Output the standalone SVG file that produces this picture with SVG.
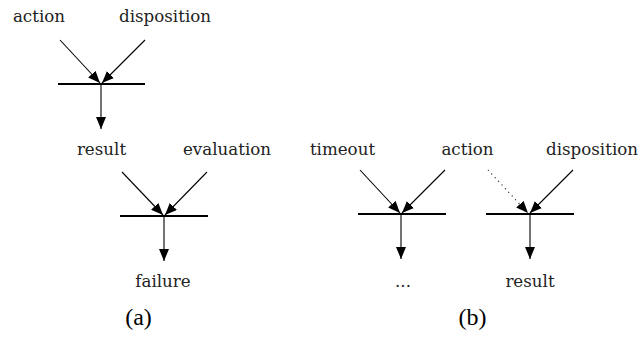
<svg xmlns="http://www.w3.org/2000/svg" width="641" height="337" viewBox="0 0 641 337">
<style>
.lbl{font-family:"DejaVu Serif",serif;font-size:16.7px;fill:#222;text-anchor:middle}
.cap{font-family:"Liberation Serif",serif;font-size:24px;fill:#000;text-anchor:middle}
.bar{stroke:#000;stroke-width:2.2;fill:none}
.arr{stroke:#000;stroke-width:1.1;fill:none;marker-end:url(#ah)}
.dot{stroke:#000;stroke-width:1.1;fill:none;stroke-dasharray:1 4;marker-end:url(#ah)}
</style>
<defs>
<marker id="ah" viewBox="0 0 12 10" refX="12" refY="5" markerWidth="12" markerHeight="10" markerUnits="userSpaceOnUse" orient="auto">
<path d="M0,0 L12,5 L0,10 Z" fill="#000"/>
</marker>
</defs>
<g id="labels-a">
<g id="n-action-a"><text class="lbl" x="39" y="22">action</text></g>
<g id="n-disposition-a"><text class="lbl" x="165" y="22">disposition</text></g>
<g id="n-result-a"><text class="lbl" x="101.5" y="155">result</text></g>
<g id="n-evaluation"><text class="lbl" x="227" y="155">evaluation</text></g>
<g id="n-failure"><text class="lbl" x="163" y="287">failure</text></g>
</g>
<g id="labels-b">
<g id="n-timeout"><text class="lbl" x="342.5" y="155">timeout</text></g>
<g id="n-action-b"><text class="lbl" x="467.5" y="155">action</text></g>
<g id="n-disposition-b"><text class="lbl" x="592" y="155">disposition</text></g>
<g id="n-ellipsis"><text class="lbl" x="403" y="287">...</text></g>
<g id="n-result-b"><text class="lbl" x="530" y="287">result</text></g>
</g>
<g id="bars">
<g id="j1"><line class="bar" x1="58" y1="84" x2="145" y2="84"/></g>
<g id="j2"><line class="bar" x1="120" y1="216" x2="208" y2="216"/></g>
<g id="j3"><line class="bar" x1="358" y1="214" x2="446" y2="214"/></g>
<g id="j4"><line class="bar" x1="486" y1="214" x2="574" y2="214"/></g>
</g>
<g id="connectors">
<line class="arr" x1="60" y1="40" x2="100" y2="83"/>
<line class="arr" x1="145" y1="40" x2="102" y2="83"/>
<line class="arr" x1="101" y1="84" x2="101" y2="129"/>
<line class="arr" x1="122" y1="172" x2="163" y2="215"/>
<line class="arr" x1="207" y1="172" x2="165" y2="215"/>
<line class="arr" x1="164" y1="216" x2="164" y2="261"/>
<line class="arr" x1="360" y1="170" x2="400" y2="213"/>
<line class="arr" x1="445" y1="170" x2="402" y2="213"/>
<line class="arr" x1="401" y1="214" x2="401" y2="259"/>
<line class="dot" x1="488" y1="170" x2="528" y2="213"/>
<line class="arr" x1="573" y1="170" x2="530" y2="213"/>
<line class="arr" x1="530" y1="214" x2="530" y2="259"/>
</g>
<g id="captions">
<text class="cap" x="138.5" y="325">(a)</text>
<text class="cap" x="472.5" y="325">(b)</text>
</g>
</svg>
